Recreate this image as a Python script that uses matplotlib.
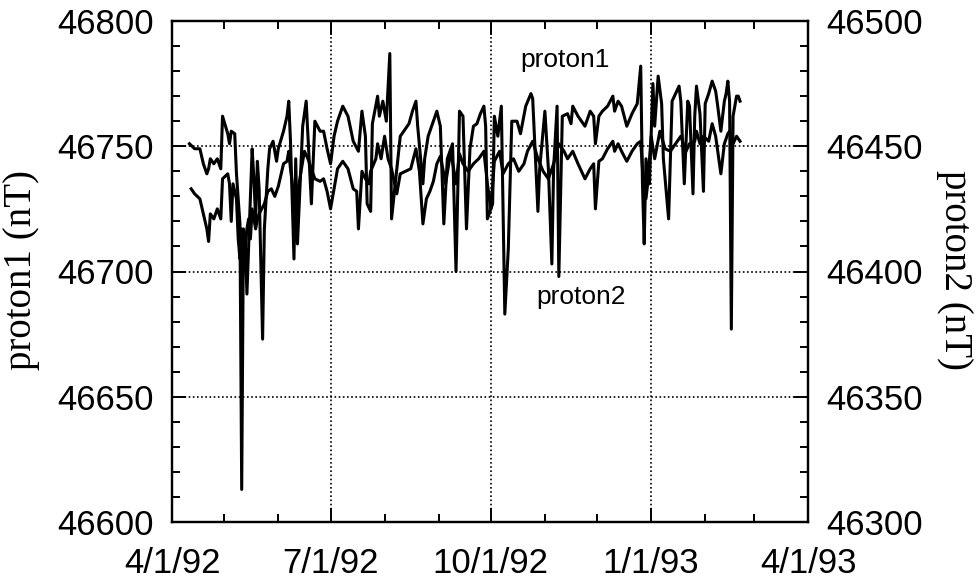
import numpy as np
import matplotlib
matplotlib.use('Agg')
import matplotlib.pyplot as plt
import matplotlib.dates as mdates
from matplotlib.ticker import MultipleLocator, FuncFormatter

# days since 4/1/92 and field values (nT)
p1_day = [10, 13, 16, 18, 20, 21, 22, 24, 26, 28, 29, 32, 33, 34, 36, 37, 39, 40, 41, 42,
          43, 45, 46, 47, 48, 49, 50, 52, 53, 55, 56, 58, 60, 61, 64, 66, 67, 68, 70, 71,
          72, 75, 77, 80, 82, 85, 87, 89, 91, 93, 95, 98, 101, 104, 107, 109, 111, 112, 114, 115,
          118, 119, 121, 123, 125, 126, 129, 131, 133, 136, 138, 140, 141, 144, 145, 147, 150, 152, 154, 156,
          158, 161, 163, 165, 167, 169, 171, 173, 175, 177, 179, 180, 181, 184, 185, 187, 189, 191, 193, 195,
          198, 200, 203, 206, 207, 210, 211, 214, 216, 218, 219, 221, 222, 224, 227, 229, 230, 233, 237, 240,
          242, 243, 245, 247, 250, 253, 254, 256, 258, 261, 264, 267, 269, 270, 271, 272, 274, 276, 277, 279,
          281, 282, 285, 287, 289, 291, 292, 294, 296, 297, 299, 300, 301, 303, 305, 306, 308, 310, 312, 313,
          315, 317, 318, 319, 320, 321, 322, 324, 325, 326]
p1_nT = [46751, 46749, 46749, 46743, 46739, 46741, 46745, 46743, 46745, 46741, 46762, 46755, 46751, 46756, 46755, 46739, 46719, 46613, 46717, 46713,
         46691, 46729, 46749, 46737, 46721, 46744, 46733, 46673, 46717, 46741, 46749, 46752, 46744, 46749, 46756, 46762, 46768, 46752, 46705, 46745,
         46711, 46758, 46768, 46727, 46760, 46756, 46756, 46749, 46743, 46754, 46760, 46766, 46762, 46752, 46748, 46764, 46754, 46727, 46724, 46759,
         46770, 46762, 46768, 46760, 46787, 46721, 46741, 46754, 46756, 46759, 46764, 46768, 46758, 46735, 46745, 46754, 46760, 46764, 46758, 46719,
         46745, 46751, 46700, 46764, 46762, 46717, 46749, 46758, 46759, 46763, 46766, 46758, 46721, 46727, 46762, 46754, 46766, 46683, 46709, 46760,
         46760, 46755, 46766, 46771, 46769, 46724, 46741, 46764, 46741, 46703, 46741, 46766, 46698, 46762, 46763, 46759, 46766, 46762, 46758, 46764,
         46762, 46751, 46762, 46764, 46766, 46770, 46764, 46768, 46766, 46758, 46763, 46767, 46782, 46735, 46711, 46745, 46735, 46775, 46758, 46778,
         46767, 46745, 46721, 46768, 46771, 46774, 46768, 46735, 46768, 46766, 46731, 46762, 46774, 46763, 46732, 46767, 46771, 46776, 46772, 46767,
         46756, 46768, 46771, 46776, 46768, 46677, 46762, 46770, 46770, 46768]

p2_day = [11, 13, 16, 18, 20, 21, 22, 24, 26, 28, 29, 32, 33, 34, 35, 37, 38, 39, 40, 41,
          43, 44, 45, 46, 48, 49, 50, 53, 55, 57, 59, 61, 64, 66, 67, 68, 71, 72, 75, 76,
          78, 80, 82, 85, 87, 89, 91, 93, 95, 98, 101, 104, 106, 107, 109, 111, 113, 114, 117, 118,
          120, 122, 124, 126, 129, 131, 134, 137, 140, 142, 144, 146, 148, 150, 152, 154, 156, 157, 160, 163,
          165, 167, 170, 173, 176, 179, 181, 183, 185, 188, 190, 193, 196, 199, 202, 204, 207, 210, 213, 216,
          219, 222, 225, 227, 230, 233, 237, 240, 242, 243, 245, 247, 250, 253, 254, 256, 258, 261, 264, 267,
          269, 270, 272, 273, 275, 277, 280, 283, 286, 289, 292, 295, 297, 300, 301, 303, 305, 308, 310, 312,
          315, 317, 319, 320, 322, 324, 326]
p2_nT = [46433, 46431, 46429, 46423, 46417, 46412, 46423, 46421, 46425, 46421, 46437, 46439, 46435, 46420, 46435, 46429, 46413, 46405, 46417, 46401,
         46417, 46421, 46413, 46425, 46417, 46421, 46423, 46427, 46432, 46433, 46430, 46434, 46443, 46444, 46448, 46441, 46424, 46431, 46444, 46448,
         46445, 46441, 46437, 46436, 46437, 46432, 46425, 46433, 46441, 46444, 46441, 46433, 46432, 46417, 46440, 46437, 46435, 46440, 46445, 46451,
         46445, 46454, 46445, 46441, 46431, 46439, 46440, 46441, 46449, 46440, 46419, 46429, 46432, 46436, 46443, 46446, 46439, 46435, 46448, 46435,
         46447, 46443, 46440, 46443, 46445, 46448, 46435, 46425, 46444, 46448, 46439, 46443, 46445, 46440, 46443, 46448, 46452, 46445, 46440, 46437,
         46443, 46451, 46448, 46445, 46448, 46443, 46437, 46441, 46443, 46425, 46444, 46445, 46449, 46452, 46448, 46451, 46448, 46444, 46448, 46451,
         46452, 46441, 46429, 46435, 46454, 46445, 46456, 46449, 46448, 46451, 46454, 46448, 46451, 46452, 46456, 46451, 46454, 46452, 46459, 46454,
         46439, 46451, 46455, 46456, 46451, 46454, 46452]

start = np.datetime64('1992-04-01')
end = np.datetime64('1993-04-01')
left_lim = (46600, 46800)
right_lim = (46300, 46500)

plt.rcParams['font.family'] = ['Liberation Sans', 'DejaVu Sans']

fig = plt.figure(figsize=(9.77, 5.84), dpi=100)
ax = fig.add_axes([172 / 977, 1 - 522 / 584, 636 / 977, 501 / 584])
ax2 = ax.twinx()

d1 = start + np.array(p1_day, dtype='timedelta64[D]')
d2 = start + np.array(p2_day, dtype='timedelta64[D]')
ax.plot(d1, p1_nT, color='black', linewidth=2.2)
ax2.plot(d2, p2_nT, color='black', linewidth=2.2)

ax.set_xlim(start, end)
ax.set_ylim(*left_lim)
ax2.set_ylim(*right_lim)

ax.xaxis.set_major_locator(mdates.MonthLocator(bymonth=[1, 4, 7, 10]))
ax.xaxis.set_minor_locator(mdates.MonthLocator())


def date_label(x, pos):
  d = mdates.num2date(x)
  return f'{d.month}/{d.day}/{d.year % 100}'


ax.xaxis.set_major_formatter(FuncFormatter(date_label))

for a in (ax, ax2):
  a.yaxis.set_major_locator(MultipleLocator(50))
  a.yaxis.set_minor_locator(MultipleLocator(10))
  for s in a.spines.values():
    s.set_linewidth(1.6)

ax.tick_params(which='both', direction='in', top=True, right=False, width=1.4, labelsize=25)
ax.tick_params(which='major', length=10)
ax.tick_params(which='minor', length=6)
ax.tick_params(axis='y', pad=13)
ax.tick_params(axis='x', pad=18)
ax2.tick_params(which='both', direction='in', width=1.4, labelsize=25, pad=13)
ax2.tick_params(which='major', length=10)
ax2.tick_params(which='minor', length=6)

ax.grid(True, which='major', color='black', linestyle=(0, (1, 1.5)), linewidth=1.2)

ax.text(0.618, 0.922, 'proton1', transform=ax.transAxes, ha='center', va='center', fontsize=19)
ax.text(0.643, 0.449, 'proton2', transform=ax.transAxes, ha='center', va='center', fontsize=19)

fig.text(22 / 977, 1 - 270 / 584, 'proton1 (nT)', rotation=90, ha='center', va='center',
         fontsize=28, family=['Liberation Serif', 'DejaVu Serif'])
fig.text(955 / 977, 1 - 270 / 584, 'proton2 (nT)', rotation=270, ha='center', va='center',
         fontsize=28, family=['Liberation Serif', 'DejaVu Serif'])

fig.savefig('out.png', dpi=100, facecolor='white')
